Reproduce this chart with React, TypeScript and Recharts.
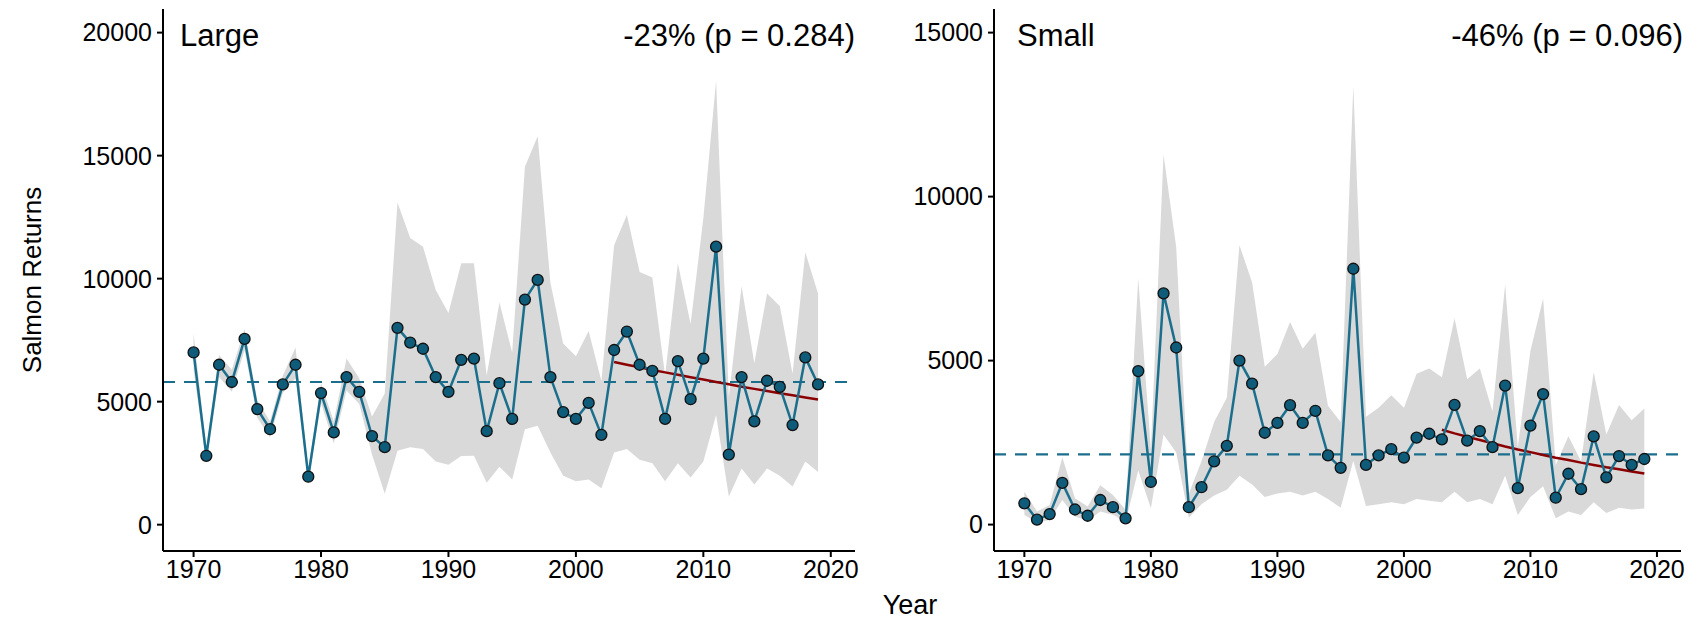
import React from 'react';
import { ComposedChart, Area, Line, XAxis, YAxis, ReferenceLine } from 'recharts';

const years = [
  1970, 1971, 1972, 1973, 1974, 1975, 1976, 1977, 1978, 1979,
  1980, 1981, 1982, 1983, 1984, 1985, 1986, 1987, 1988, 1989,
  1990, 1991, 1992, 1993, 1994, 1995, 1996, 1997, 1998, 1999,
  2000, 2001, 2002, 2003, 2004, 2005, 2006, 2007, 2008, 2009,
  2010, 2011, 2012, 2013, 2014, 2015, 2016, 2017, 2018, 2019,
];
const xTicks = [1970, 1980, 1990, 2000, 2010, 2020];
const trendYears = [
  2003, 2004, 2005, 2006, 2007, 2008, 2009, 2010, 2011,
  2012, 2013, 2014, 2015, 2016, 2017, 2018, 2019,
];

// Large salmon
const largeReturns = [
  7000, 2800, 6500, 5800, 7550, 4700, 3880, 5700, 6500, 1950,
  5350, 3750, 6000, 5400, 3600, 3150, 8000, 7400, 7150, 6000,
  5400, 6700, 6750, 3800, 5750, 4300, 9150, 9950, 6000, 4575,
  4300, 4950, 3650, 7100, 7850, 6500, 6250, 4300, 6650, 5100,
  6750, 11300, 2850, 6000, 4200, 5850, 5600, 4050, 6800, 5700,
];
const largeLow = [
  6300, 2500, 6000, 5400, 7100, 4350, 3550, 5350, 5950, 1700,
  4950, 3300, 5450, 4900, 2850, 1260, 3000, 3150, 3080, 2570,
  2440, 2790, 2800, 1700, 2350, 1840, 3880, 4020, 2930, 1990,
  1770, 1840, 1480, 2930, 3080, 2640, 2500, 1770, 2500, 1920,
  2570, 4460, 1150, 2280, 1630, 2280, 1990, 1550, 2570, 2140,
];
const largeHigh = [
  7780, 3100, 6900, 6300, 7950, 5050, 4200, 6050, 7200, 2250,
  5750, 4200, 6750, 5950, 4400, 5330, 13100, 11650, 11300, 9540,
  8600, 10630, 10630, 6060, 9030, 7000, 14550, 15790, 9830, 7360,
  6850, 7870, 5840, 11360, 12590, 10270, 10050, 6060, 10630, 8160,
  12450, 18040, 5200, 9690, 6570, 9400, 8890, 6130, 11070, 9400,
];
const largeTrend = [
  6610, 6500, 6400, 6290, 6190, 6090, 5990, 5900, 5800,
  5710, 5610, 5520, 5430, 5340, 5260, 5170, 5090,
];
const largeMean = 5800;
const largeTicks = [0, 5000, 10000, 15000, 20000];

// Small salmon
const smallReturns = [
  650, 150, 320, 1270, 460, 270, 750, 530, 190, 4680,
  1300, 7050, 5400, 530, 1140, 1930, 2400, 5000, 4300, 2800,
  3100, 3640, 3100, 3470, 2110, 1730, 7800, 1820, 2110, 2300,
  2040, 2650, 2770, 2600, 3650, 2560, 2850, 2360, 4240, 1110,
  3020, 3980, 820, 1550, 1080, 2690, 1440, 2090, 1820, 2000,
];
const smallLow = [
  300, 50, 150, 750, 250, 120, 400, 300, 80, 1650,
  500, 2745, 2200, 210, 620, 890, 1060, 1490, 1220, 840,
  950, 1000, 890, 1000, 780, 510, 1950, 570, 620, 680,
  620, 780, 730, 680, 1000, 680, 780, 620, 1490, 290,
  840, 1170, 190, 400, 290, 680, 350, 510, 460, 490,
];
const smallHigh = [
  1000, 400, 600, 2050, 800, 550, 1200, 900, 450, 7500,
  2300, 11275, 8460, 950, 1930, 3130, 3870, 8520, 7380, 4810,
  5200, 6180, 5360, 5850, 3620, 3130, 13370, 3290, 3560, 3940,
  3560, 4600, 4760, 4490, 6290, 4430, 4760, 3450, 7320, 2360,
  5300, 6890, 1820, 2690, 1930, 4650, 2750, 3650, 3180, 3540,
];
const smallTrend = [
  2890, 2780, 2680, 2580, 2480, 2380, 2290, 2210, 2120,
  2040, 1970, 1890, 1820, 1750, 1690, 1620, 1560,
];
const smallMean = 2140;
const smallTicks = [0, 5000, 10000, 15000];

const LINE = '#1b6f8d';
const POINT = '#0f5b7a';
const BAND = '#d9d9d9';
const TREND = '#8b0000';
const FONT = '"Liberation Sans", Arial, sans-serif';

function buildRows(values: number[], lo: number[], hi: number[], trend: number[]) {
  return years.map((year, i) => {
    const t = trendYears.indexOf(year);
    return {
      year,
      value: values[i],
      band: [lo[i], hi[i]],
      trend: t >= 0 ? trend[t] : null,
    };
  });
}

interface PanelProps {
  left: number;
  width: number;
  yAxisWidth: number;
  marginRight: number;
  rows: any[];
  mean: number;
  yDomain: [number, number];
  yTicks: number[];
}

function Panel({ left, width, yAxisWidth, marginRight, rows, mean, yDomain, yTicks }: PanelProps) {
  const axisTick = { fill: '#000', fontSize: 25, fontFamily: FONT };
  return (
    <div style={{ position: 'absolute', left, top: 0 }}>
      <ComposedChart
        width={width}
        height={619}
        data={rows}
        margin={{ top: 9, right: marginRight, bottom: 28, left: 0 }}
      >
        <XAxis
          dataKey="year"
          type="number"
          domain={[1967.6, 2021.9]}
          allowDataOverflow
          ticks={xTicks}
          interval={0}
          height={40}
          tick={axisTick}
          tickSize={6}
          tickMargin={3}
          axisLine={{ stroke: '#000', strokeWidth: 2 }}
          tickLine={{ stroke: '#000', strokeWidth: 2 }}
        />
        <YAxis
          type="number"
          domain={yDomain}
          allowDataOverflow
          ticks={yTicks}
          interval={0}
          width={yAxisWidth}
          tick={axisTick}
          tickSize={6}
          tickMargin={5}
          axisLine={{ stroke: '#000', strokeWidth: 2 }}
          tickLine={{ stroke: '#000', strokeWidth: 2 }}
        />
        <Area
          dataKey="band"
          type="linear"
          fill={BAND}
          fillOpacity={1}
          stroke="none"
          isAnimationActive={false}
          activeDot={false}
        />
        <ReferenceLine y={mean} stroke={LINE} strokeWidth={2.2} strokeDasharray="12 9" />
        <Line
          dataKey="trend"
          type="linear"
          stroke={TREND}
          strokeWidth={2.5}
          dot={false}
          activeDot={false}
          connectNulls={false}
          isAnimationActive={false}
        />
        <Line
          dataKey="value"
          type="linear"
          stroke={LINE}
          strokeWidth={2.5}
          dot={{ r: 5.5, fill: POINT, stroke: '#111', strokeWidth: 1.3 }}
          activeDot={false}
          isAnimationActive={false}
        />
      </ComposedChart>
    </div>
  );
}

export default function App() {
  const largeRows = buildRows(largeReturns, largeLow, largeHigh, largeTrend);
  const smallRows = buildRows(smallReturns, smallLow, smallHigh, smallTrend);
  const text = { fontFamily: FONT, fill: '#000' };
  return (
    <div
      style={{
        position: 'fixed',
        left: 0,
        top: 0,
        width: 1703,
        height: 619,
        background: '#fff',
        fontFamily: FONT,
      }}
    >
      <Panel
        left={0}
        width={870}
        yAxisWidth={163}
        marginRight={15}
        rows={largeRows}
        mean={largeMean}
        yDomain={[-1070, 20960]}
        yTicks={largeTicks}
      />
      <Panel
        left={870}
        width={833}
        yAxisWidth={124}
        marginRight={22}
        rows={smallRows}
        mean={smallMean}
        yDomain={[-805, 15720]}
        yTicks={smallTicks}
      />
      <svg
        width={1703}
        height={619}
        style={{ position: 'absolute', left: 0, top: 0, pointerEvents: 'none' }}
      >
        <text x={180} y={46} fontSize={31} {...text}>Large</text>
        <text x={855} y={46} fontSize={31} textAnchor="end" {...text}>-23% (p = 0.284)</text>
        <text x={1017} y={46} fontSize={31} {...text}>Small</text>
        <text x={1683} y={46} fontSize={31} textAnchor="end" {...text}>-46% (p = 0.096)</text>
        <text
          x={0}
          y={0}
          fontSize={26}
          textAnchor="middle"
          transform="translate(41, 280) rotate(-90)"
          {...text}
        >
          Salmon Returns
        </text>
        <text x={910} y={614} fontSize={27} textAnchor="middle" {...text}>Year</text>
      </svg>
    </div>
  );
}
